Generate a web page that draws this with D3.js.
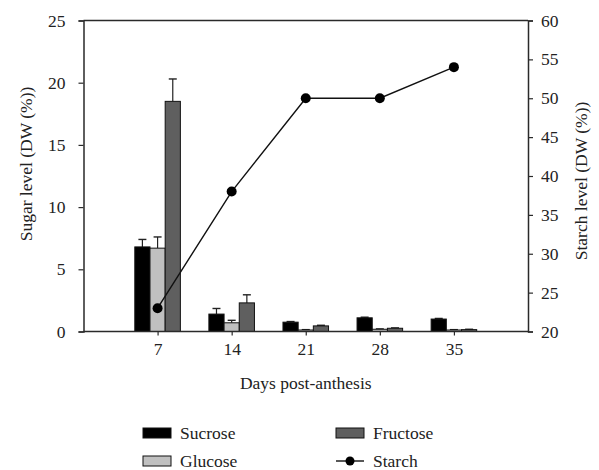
<!DOCTYPE html>
<html><head><meta charset="utf-8">
<script src="https://cdn.jsdelivr.net/npm/d3@7"></script>
<style>body{margin:0;background:#fff;} svg{display:block;} text{font-family:"Liberation Serif","DejaVu Serif",serif;fill:#222;}</style>
</head><body>
<script>
const days = [7, 14, 21, 28, 35];
const sucrose = [6.8, 1.4, 0.75, 1.1, 1.0];
const sucroseErr = [0.6, 0.45, 0.05, 0.05, 0.05];
const glucose = [6.7, 0.7, 0.12, 0.18, 0.12];
const glucoseErr = [0.9, 0.2, 0.03, 0.03, 0.03];
const fructose = [18.5, 2.3, 0.45, 0.26, 0.15];
const fructoseErr = [1.8, 0.65, 0.05, 0.03, 0.03];
const starch = [23, 38, 50, 50, 54];
const sugarTicks = [0, 5, 10, 15, 20, 25];
const starchTicks = [20, 25, 30, 35, 40, 45, 50, 55, 60];
const seriesNames = ["Sucrose", "Glucose", "Fructose"];
const seriesColors = ["#000000", "#c0c0c0", "#5f5f5f"];

const W = 599, H = 470;
const L = 83.5, R = 528, T = 20.5, B = 331.5;
const svg = d3.select("body").append("svg").attr("width", W).attr("height", H);

const x = d3.scaleLinear().domain([0, 42]).range([L, R]);
const y = d3.scaleLinear().domain([0, 25]).range([B, T]);
const y2 = d3.scaleLinear().domain([20, 60]).range([B, T]);

const bw = (x(7) - x(0)) * 0.205;
const series = [
  {name: seriesNames[0], vals: sucrose, err: sucroseErr, color: seriesColors[0]},
  {name: seriesNames[1], vals: glucose, err: glucoseErr, color: seriesColors[1]},
  {name: seriesNames[2], vals: fructose, err: fructoseErr, color: seriesColors[2]}
];

series.forEach((s, si) => {
  const g = svg.append("g");
  days.forEach((d, i) => {
    const x0 = x(d) - 1.5 * bw + si * bw;
    const top = y(s.vals[i] + s.err[i]);
    g.append("line").attr("x1", x0 + bw/2).attr("x2", x0 + bw/2)
      .attr("y1", y(s.vals[i])).attr("y2", top).attr("stroke", "#222").attr("stroke-width", 1.2);
    g.append("line").attr("x1", x0 + bw/2 - 4).attr("x2", x0 + bw/2 + 4)
      .attr("y1", top).attr("y2", top).attr("stroke", "#222").attr("stroke-width", 1.4);
    g.append("rect").attr("x", x0).attr("width", bw)
      .attr("y", y(s.vals[i])).attr("height", B - y(s.vals[i]))
      .attr("fill", s.color).attr("stroke", "#111").attr("stroke-width", 1);
  });
});

const line = d3.line().x((d, i) => x(days[i])).y(d => y2(d));
svg.append("path").datum(starch).attr("d", line).attr("fill", "none").attr("stroke", "#111").attr("stroke-width", 1.4);
svg.selectAll("circle.st").data(starch).enter().append("circle")
  .attr("cx", (d, i) => x(days[i])).attr("cy", d => y2(d)).attr("r", 5).attr("fill", "#000");

const ax = svg.append("g").attr("stroke", "#2a2a2a").attr("stroke-width", 1.5).attr("fill", "none");
ax.append("line").attr("x1", L).attr("x2", R).attr("y1", T).attr("y2", T);
ax.append("line").attr("x1", L).attr("x2", R).attr("y1", B).attr("y2", B);

const fs = "17.5px";
const la = svg.append("g").attr("transform", `translate(${L},0)`)
  .call(d3.axisLeft(y).tickValues(sugarTicks).tickSize(5).tickPadding(13).tickFormat(d3.format("d")));
const ra = svg.append("g").attr("transform", `translate(${R},0)`)
  .call(d3.axisRight(y2).tickValues(starchTicks).tickSize(5).tickPadding(8).tickFormat(d3.format("d")));
const ba = svg.append("g").attr("transform", `translate(0,${B})`)
  .call(d3.axisBottom(x).tickValues(days).tickSize(4).tickPadding(7).tickFormat(d3.format("d")));
[la, ra, ba].forEach(a => {
  a.select(".domain").attr("stroke", "#2a2a2a").attr("stroke-width", 1.5);
  a.selectAll(".tick line").attr("stroke", "#2a2a2a").attr("stroke-width", 1.2);
  a.selectAll("text").style("font-size", fs).attr("fill", "#222").style("font-family", '"Liberation Serif",serif');
});
ba.select(".domain").remove();

svg.append("text").attr("transform", `translate(32,${(T+B)/2 - 12}) rotate(-90)`)
  .attr("text-anchor", "middle").style("font-size", fs).text("Sugar level (DW (%))");
svg.append("text").attr("transform", `translate(587,${(T+B)/2 + 5}) rotate(-90)`)
  .attr("text-anchor", "middle").style("font-size", fs).text("Starch level (DW (%))");
svg.append("text").attr("x", x(21)).attr("y", 389).attr("text-anchor", "middle")
  .style("font-size", fs).text("Days post-anthesis");

const leg = svg.append("g");
const items = [
  {name: "Sucrose", type: "bar", color: seriesColors[0], x: 143, y: 433},
  {name: "Glucose", type: "bar", color: seriesColors[1], x: 143, y: 461},
  {name: "Fructose", type: "bar", color: seriesColors[2], x: 336, y: 433},
  {name: "Starch", type: "line", x: 336, y: 461}
];
items.forEach(it => {
  if (it.type === "bar") {
    leg.append("rect").attr("x", it.x).attr("y", it.y - 5).attr("width", 28).attr("height", 10)
      .attr("fill", it.color).attr("stroke", "#111").attr("stroke-width", 1);
  } else {
    leg.append("line").attr("x1", it.x).attr("x2", it.x + 28).attr("y1", it.y).attr("y2", it.y)
      .attr("stroke", "#111").attr("stroke-width", 1.4);
    leg.append("circle").attr("cx", it.x + 14).attr("cy", it.y).attr("r", 4.5).attr("fill", "#000");
  }
  leg.append("text").attr("x", it.x + 37).attr("y", it.y + 6).style("font-size", fs).text(it.name);
});
</script>
</body></html>
